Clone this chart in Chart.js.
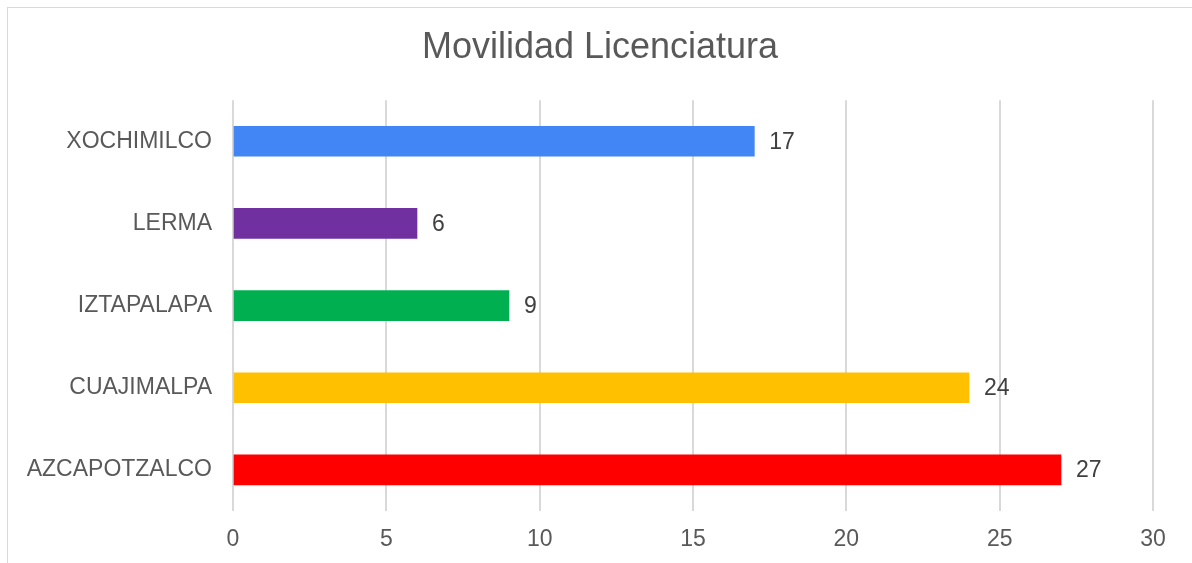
<!DOCTYPE html>
<html>
<head>
<meta charset="utf-8">
<script src="https://cdn.jsdelivr.net/npm/chart.js@4"></script>
<style>
  body { margin: 0; background: #fff; }
  #frame { position: absolute; left: 7px; top: 7px; width: 1200px; height: 600px; border: 1px solid #d9d9d9; }
  #wrap { position: absolute; left: 0; top: 0; width: 1192px; height: 563px; }
</style>
</head>
<body>
<div id="frame"></div>
<div id="wrap"><canvas id="chart" width="1192" height="563"></canvas></div>
<script>
// Movilidad Licenciatura - horizontal bars, top to bottom
const categories = ['XOCHIMILCO', 'LERMA', 'IZTAPALAPA', 'CUAJIMALPA', 'AZCAPOTZALCO'];
const values = [17, 6, 9, 24, 27];
const barColors = ['#4285F4', '#7030A0', '#00B050', '#FFC000', '#FF0000'];
const xTicks = [0, 5, 10, 15, 20, 25, 30];

const FONT = '"Liberation Sans", Arial, sans-serif';

// value labels at the end of each bar
const valueLabels = {
  id: 'valueLabels',
  afterDatasetsDraw(chart) {
    const ctx = chart.ctx;
    const meta = chart.getDatasetMeta(0);
    ctx.save();
    ctx.font = '23px ' + FONT;
    ctx.fillStyle = '#404040';
    ctx.textAlign = 'left';
    ctx.textBaseline = 'middle';
    meta.data.forEach((bar, i) => {
      ctx.fillText(String(values[i]), bar.x + 15, bar.y + 1);
    });
    ctx.restore();
  }
};

new Chart(document.getElementById('chart'), {
  type: 'bar',
  data: {
    labels: categories,
    datasets: [{
      data: values,
      backgroundColor: barColors,
      borderWidth: 0,
      barThickness: 30
    }]
  },
  options: {
    indexAxis: 'y',
    responsive: false,
    animation: false,
    layout: { padding: { left: 8, right: 0, top: 0, bottom: 12 } },
    plugins: {
      legend: { display: false },
      tooltip: { enabled: false },
      title: {
        display: true,
        text: 'Movilidad Licenciatura',
        color: '#595959',
        font: { family: FONT, size: 36, weight: 'normal' },
        padding: { top: 26, bottom: 31 }
      }
    },
    scales: {
      x: {
        min: 0,
        max: 30,
        afterBuildTicks: (axis) => { axis.ticks = xTicks.map(v => ({ value: v })); },
        grid: { color: '#d9d9d9', lineWidth: 2, drawTicks: false },
        border: { display: false },
        ticks: { color: '#595959', padding: 15, font: { family: FONT, size: 23 } },
        afterFit: (axis) => { axis.height = 40; axis.paddingRight = 39; }
      },
      y: {
        grid: { display: false, drawTicks: false },
        border: { display: false },
        ticks: { color: '#595959', padding: 21, font: { family: FONT, size: 23 } },
        afterFit: (axis) => { axis.width = 225; }
      }
    }
  },
  plugins: [valueLabels]
});
</script>
</body>
</html>
